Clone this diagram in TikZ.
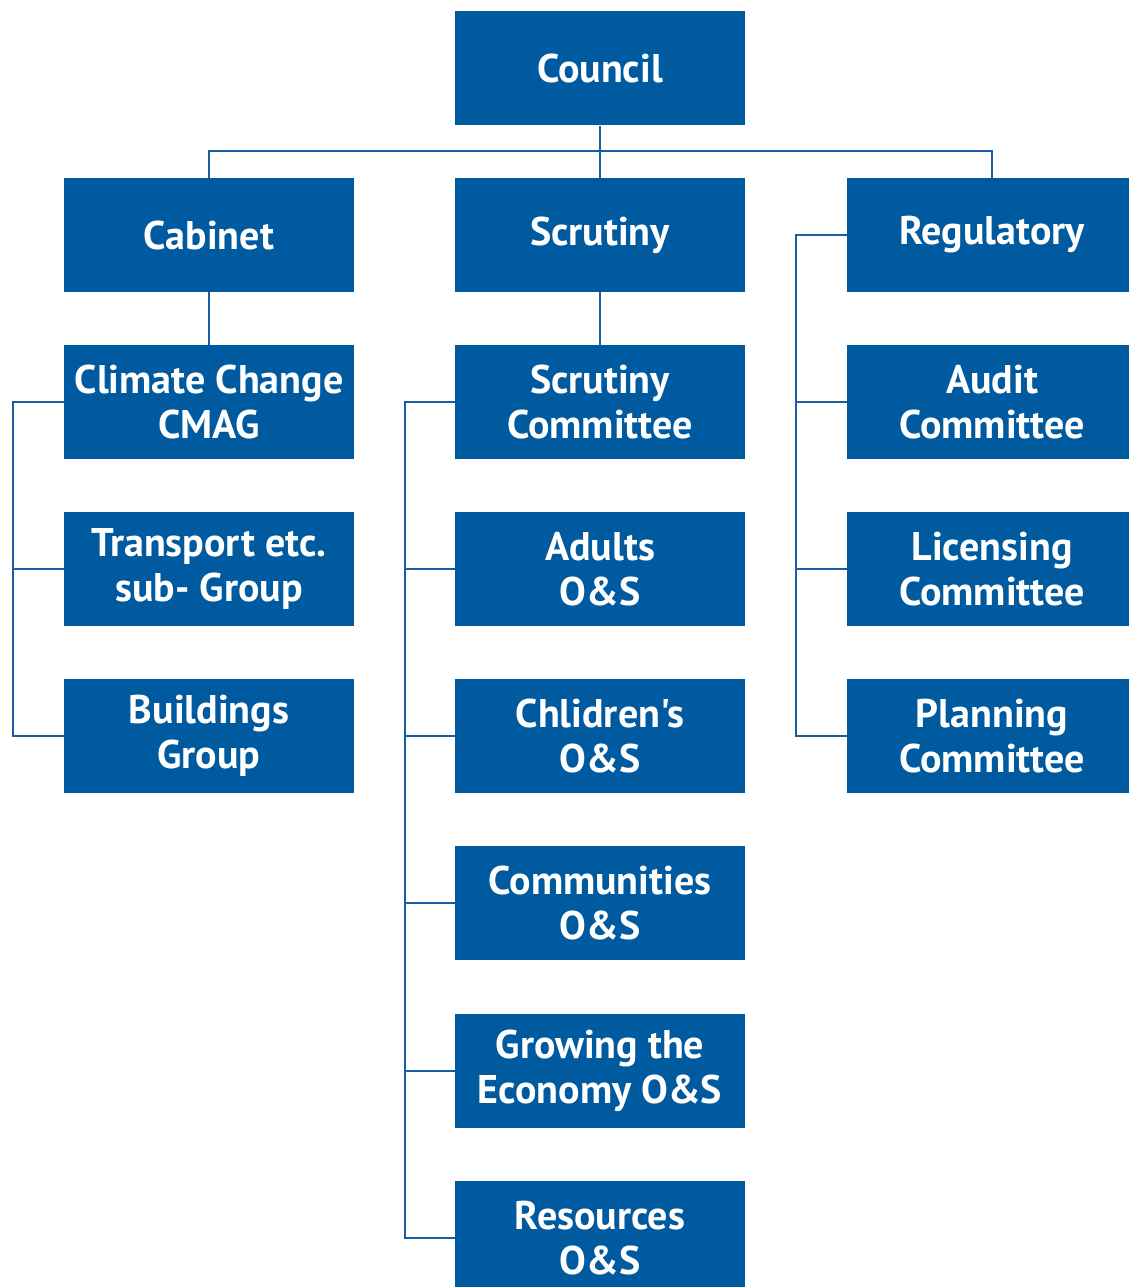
\documentclass[tikz,border=0pt]{standalone}
\usepackage{fontspec}
\setmainfont{PT Sans}[Ligatures=TeXOff]
\definecolor{boxblue}{HTML}{005AA0}
\definecolor{lineblue}{HTML}{1A5EA6}
\begin{document}
\begin{tikzpicture}[x=1pt,y=-1pt,
  box/.style={fill=boxblue, text=white, minimum width=290pt, minimum height=114pt,
    inner sep=0pt, align=center, font=\fontsize{40}{45}\selectfont\bfseries},
  conn/.style={draw=lineblue, line width=2.2pt}]
\useasboundingbox (0,0) rectangle (1129,1287);
\node[box] (council) at (600,68.5) {Council};
\node[box] (cabinet) at (209,235) {Cabinet};
\node[box] (scrutiny) at (600,235) {Scrutiny};
\node[box] (regulatory) at (992,235) {Regulatory};
\node[box] (cmag) at (209,402) {Climate Change\\CMAG};
\node[box] (transport) at (209,569) {Transport etc.\\sub- Group};
\node[box] (buildings) at (209,736) {Buildings\\Group};
\node[box] (scrcom) at (600,402) {Scrutiny\\Committee};
\node[box] (adults) at (600,569) {Adults\\O\&S};
\node[box] (children) at (600,736) {Chlidren's\\O\&S};
\node[box] (communities) at (600,903) {Communities\\O\&S};
\node[box] (economy) at (600,1071) {Growing the\\Economy O\&S};
\node[box] (resources) at (600,1238) {Resources\\O\&S};
\node[box] (audit) at (992,402) {Audit\\Committee};
\node[box] (licensing) at (992,569) {Licensing\\Committee};
\node[box] (planning) at (992,736) {Planning\\Committee};
\coordinate (bus) at (600,151);
\draw[conn] (council.south) -- (bus);
\draw[conn] (bus) -| (cabinet.north);
\draw[conn] (bus) -- (scrutiny.north);
\draw[conn] (bus) -| (regulatory.north);
\draw[conn] (cabinet.south) -- (cmag.north);
\draw[conn] (scrutiny.south) -- (scrcom.north);
% left bracket
\coordinate (lb) at (13,0);
\draw[conn] (cmag.west) -- (lb |- cmag.west) -- (lb |- buildings.west) -- (buildings.west);
\draw[conn] (transport.west) -- (lb |- transport.west);
% middle bracket
\coordinate (mb) at (405,0);
\draw[conn] (scrcom.west) -- (mb |- scrcom.west) -- (mb |- resources.west) -- (resources.west);
\foreach \n in {adults,children,communities,economy} \draw[conn] (\n.west) -- (mb |- \n.west);
% right bracket
\coordinate (rb) at (796,0);
\draw[conn] (regulatory.west) -- (rb |- regulatory.west) -- (rb |- planning.west) -- (planning.west);
\foreach \n in {audit,licensing} \draw[conn] (\n.west) -- (rb |- \n.west);
\end{tikzpicture}
\end{document}
